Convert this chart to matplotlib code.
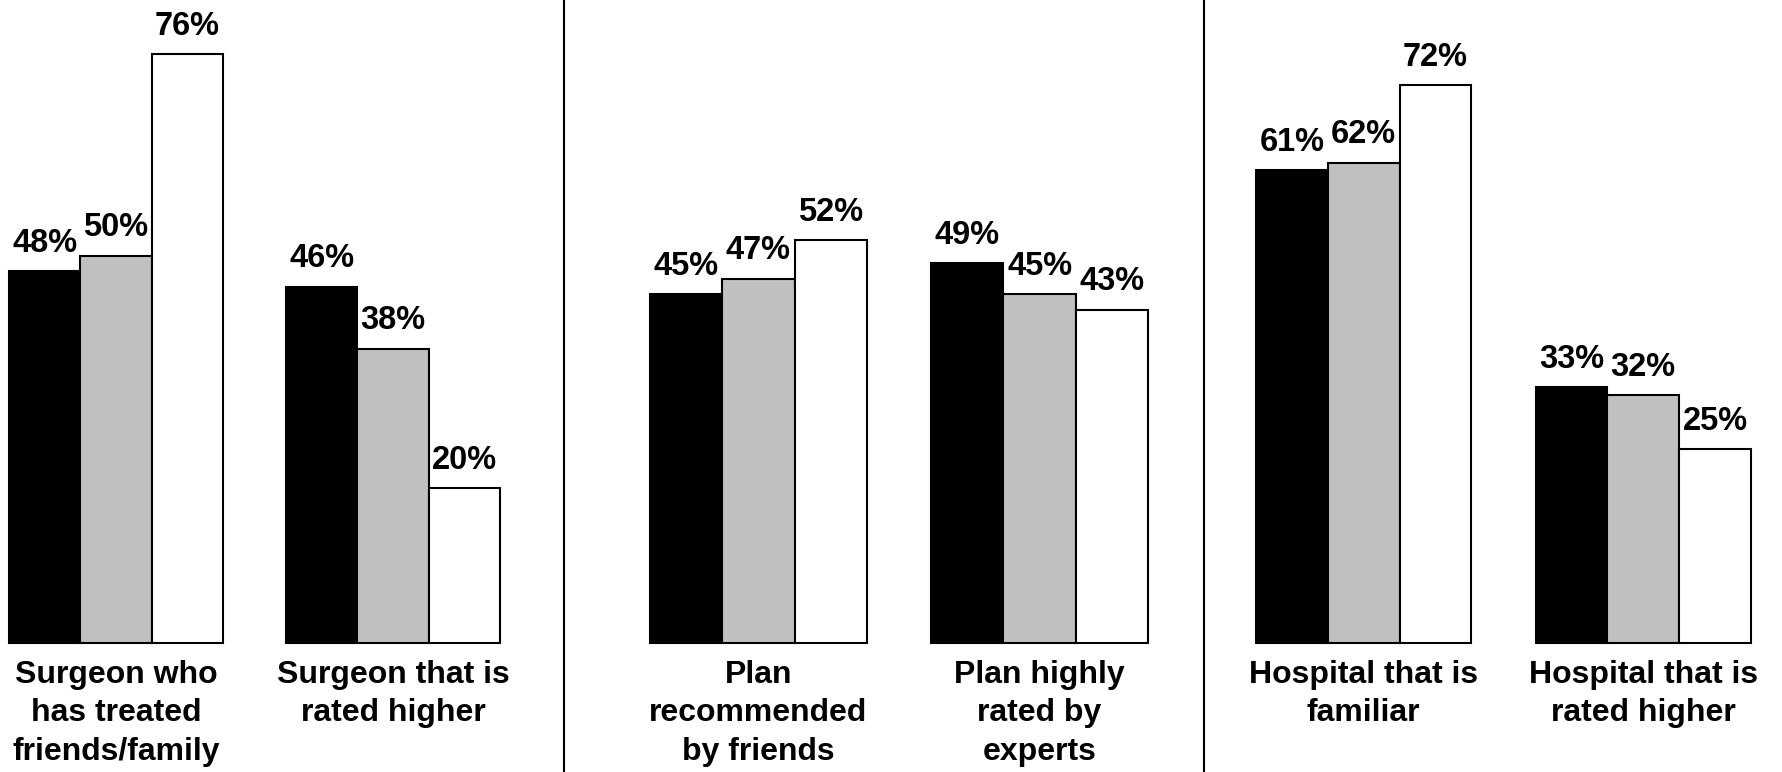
import matplotlib.pyplot as plt
from matplotlib.lines import Line2D

# data
categories = [
    "Surgeon who\nhas treated\nfriends/family",
    "Surgeon that is\nrated higher",
    "Plan\nrecommended\nby friends",
    "Plan highly\nrated by\nexperts",
    "Hospital that is\nfamiliar",
    "Hospital that is\nrated higher",
]
black_vals = [48, 46, 45, 49, 61, 33]
gray_vals = [50, 38, 47, 45, 62, 32]
white_vals = [76, 20, 52, 43, 72, 25]

plt.rcParams['font.family'] = ['Liberation Sans', 'DejaVu Sans']
plt.rcParams['font.weight'] = 'bold'

W, H = 1782, 772
fig = plt.figure(figsize=(W / 100, H / 100), dpi=100)

# panel extents in pixels (left edge of first group, right edge of second)
panel_px = [(9, 500), (650, 1148), (1256, 1751)]
base_px = 643
bw = 0.257
fills = ['black', '#c0c0c0', 'white']
series = [black_vals, gray_vals, white_vals]

for p, (l, r) in enumerate(panel_px):
    ax = fig.add_axes([l / W, (H - base_px) / H, (r - l) / W, base_px / H])
    for j, (vals, fc) in enumerate(zip(series, fills)):
        xs = [g + (j - 1) * bw for g in range(2)]
        ys = vals[2 * p:2 * p + 2]
        ax.bar(xs, ys, width=bw, color=fc, edgecolor='black', linewidth=1.5,
               clip_on=False)
        for x, y in zip(xs, ys):
            ax.annotate(f"{y}%", (x, y), xytext=(0, 14), textcoords='offset points',
                        ha='center', va='baseline', fontsize=23.5, fontweight='bold')
    ax.set_xlim(-1.5 * bw, 1 + 1.5 * bw)
    ax.set_ylim(0, base_px / 7.75)
    ax.set_xticks([0, 1])
    ax.set_xticklabels(categories[2 * p:2 * p + 2], fontsize=23, fontweight='bold',
                       linespacing=1.37)
    ax.tick_params(axis='x', length=0, pad=12)
    ax.set_yticks([])
    for s in ax.spines.values():
        s.set_visible(False)
    ax.patch.set_alpha(0)

# vertical dividers between panels
for xd in (564, 1204):
    fig.add_artist(Line2D([xd / W, xd / W], [0, 1], color='black', linewidth=1.5))

fig.savefig("out.png", dpi=100)
